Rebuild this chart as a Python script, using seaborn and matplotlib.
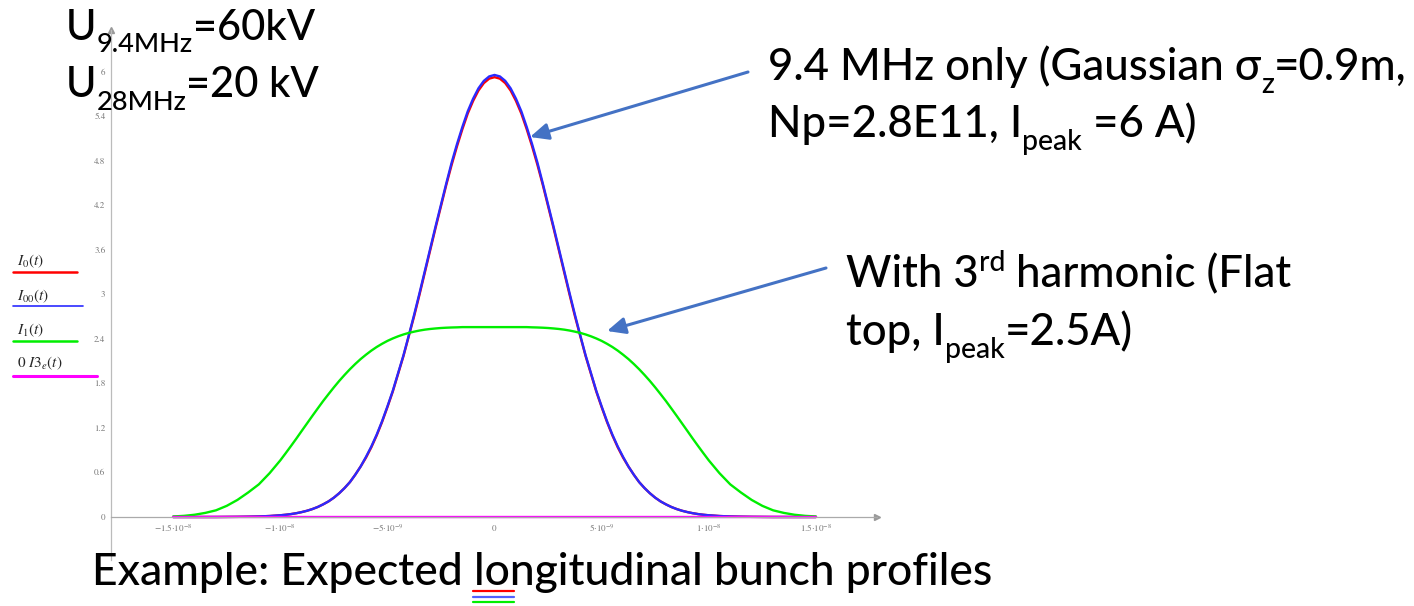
import numpy as np
import pandas as pd
import matplotlib
matplotlib.use("Agg")
import matplotlib.pyplot as plt
import seaborn as sns
from matplotlib.lines import Line2D

# time axis in ns (tick labels are written in seconds)
t_ns = [-15, -14.5, -14, -13.5, -13, -12.5, -12, -11.5, -11, -10.5,
        -10, -9.75, -9.5, -9.25, -9, -8.75, -8.5, -8.25, -8, -7.75,
        -7.5, -7.25, -7, -6.75, -6.5, -6.25, -6, -5.75, -5.5, -5.25,
        -5, -4.75, -4.5, -4.25, -4, -3.75, -3.5, -3.25, -3, -2.75,
        -2.5, -2.25, -2, -1.75, -1.5, -1.25, -1, -0.75, -0.5, -0.25,
        0,
        0.25, 0.5, 0.75, 1, 1.25, 1.5, 1.75, 2, 2.25, 2.5,
        2.75, 3, 3.25, 3.5, 3.75, 4, 4.25, 4.5, 4.75, 5,
        5.25, 5.5, 5.75, 6, 6.25, 6.5, 6.75, 7, 7.25, 7.5,
        7.75, 8, 8.25, 8.5, 8.75, 9, 9.25, 9.5, 9.75, 10,
        10.5, 11, 11.5, 12, 12.5, 13, 13.5, 14, 14.5, 15]

# I0(t): 9.4 MHz only, gaussian bunch
I0 = [0, 0, 0, 0, 0, 0.001, 0.002, 0.004, 0.007, 0.013,
      0.023, 0.030, 0.039, 0.051, 0.066, 0.084, 0.107, 0.135, 0.17, 0.21,
      0.26, 0.32, 0.39, 0.47, 0.57, 0.68, 0.80, 0.94, 1.10, 1.28,
      1.48, 1.69, 1.93, 2.17, 2.44, 2.71, 3.00, 3.30, 3.60, 3.90,
      4.19, 4.48, 4.75, 5.00, 5.23, 5.44, 5.61, 5.75, 5.85, 5.91,
      5.93,
      5.91, 5.85, 5.75, 5.61, 5.44, 5.23, 5.00, 4.75, 4.48, 4.19,
      3.90, 3.60, 3.30, 3.00, 2.71, 2.44, 2.17, 1.93, 1.69, 1.48,
      1.28, 1.10, 0.94, 0.80, 0.68, 0.57, 0.47, 0.39, 0.32, 0.26,
      0.21, 0.17, 0.135, 0.107, 0.084, 0.066, 0.051, 0.039, 0.030, 0.023,
      0.013, 0.007, 0.004, 0.002, 0.001, 0, 0, 0, 0, 0]

# I00(t): nearly on top of I0
I00 = [0, 0, 0, 0, 0, 0.001, 0.002, 0.004, 0.007, 0.013,
       0.023, 0.030, 0.039, 0.051, 0.066, 0.084, 0.107, 0.135, 0.17, 0.21,
       0.26, 0.32, 0.39, 0.47, 0.57, 0.68, 0.81, 0.95, 1.11, 1.29,
       1.49, 1.70, 1.94, 2.18, 2.45, 2.73, 3.02, 3.32, 3.62, 3.92,
       4.21, 4.50, 4.78, 5.03, 5.26, 5.47, 5.64, 5.78, 5.88, 5.94,
       5.96,
       5.94, 5.88, 5.78, 5.64, 5.47, 5.26, 5.03, 4.78, 4.50, 4.21,
       3.92, 3.62, 3.32, 3.02, 2.73, 2.45, 2.18, 1.94, 1.70, 1.49,
       1.29, 1.11, 0.95, 0.81, 0.68, 0.57, 0.47, 0.39, 0.32, 0.26,
       0.21, 0.17, 0.135, 0.107, 0.084, 0.066, 0.051, 0.039, 0.030, 0.023,
       0.013, 0.007, 0.004, 0.002, 0.001, 0, 0, 0, 0, 0]

# I1(t): with 3rd harmonic, flat top
I1 = [0.007, 0.015, 0.03, 0.055, 0.09, 0.15, 0.23, 0.33, 0.44, 0.59,
      0.763, 0.859, 0.957, 1.057, 1.160, 1.262, 1.364, 1.464, 1.563, 1.656,
      1.747, 1.834, 1.915, 1.992, 2.063, 2.129, 2.188, 2.243, 2.292, 2.335,
      2.374, 2.407, 2.436, 2.461, 2.482, 2.499, 2.514, 2.526, 2.535, 2.542,
      2.548, 2.552, 2.555, 2.557, 2.56, 2.56, 2.56, 2.56, 2.56, 2.56,
      2.56,
      2.56, 2.56, 2.56, 2.56, 2.56, 2.56, 2.557, 2.555, 2.552, 2.548,
      2.542, 2.535, 2.526, 2.514, 2.499, 2.482, 2.461, 2.436, 2.407, 2.374,
      2.335, 2.292, 2.243, 2.188, 2.129, 2.063, 1.992, 1.915, 1.834, 1.747,
      1.656, 1.563, 1.464, 1.364, 1.262, 1.160, 1.057, 0.957, 0.859, 0.763,
      0.59, 0.44, 0.33, 0.23, 0.15, 0.09, 0.055, 0.03, 0.015, 0.007]

# 0*I3e(t)
I3e = [0] * len(t_ns)

series_names = ["I0", "I00", "I1", "I3e"]
series_colors = ["#ff0000", "#2a2aff", "#00ee00", "#ff00ff"]

x_ticks = [-15, -10, -5, 0, 5, 10, 15]
x_ticklabels = [r"$-1.5{\cdot}10^{-8}$", r"$-1{\cdot}10^{-8}$", r"$-5{\cdot}10^{-9}$", r"$0$",
                r"$5{\cdot}10^{-9}$", r"$1{\cdot}10^{-8}$", r"$1.5{\cdot}10^{-8}$"]
y_ticks = [0, 0.6, 1.2, 1.8, 2.4, 3, 3.6, 4.2, 4.8, 5.4, 6]
y_ticklabels = ["0", "0.6", "1.2", "1.8", "2.4", "3", "3.6", "4.2", "4.8", "5.4", "6"]

df = pd.DataFrame({
    "t": t_ns * 4,
    "I": I0 + I00 + I1 + I3e,
    "curve": sum([[n] * len(t_ns) for n in series_names], []),
})

sns.set_style("white")
plt.rcParams["mathtext.fontset"] = "stix"
FONT = ["Lato", "DejaVu Sans"]

W, H = 1414, 606
fig = plt.figure(figsize=(W / 100, H / 100), dpi=100)
# axes box in image pixels: y axis at x=111, x arrow at 877, top 30, bottom 560
ax = fig.add_axes([111 / W, (H - 560) / H, (877 - 111) / W, (560 - 30) / H])

sns.lineplot(data=df, x="t", y="I", hue="curve", hue_order=series_names,
             palette=series_colors, legend=False, linewidth=1.7, ax=ax, sort=False)
for ln in ax.get_lines():
    ln.set_solid_joinstyle("round")
    ln.set_solid_capstyle("round")

ax.set_xlim(-17.9, 17.85)
ax.set_ylim(-0.58, 6.566)
ax.set_xlabel("")
ax.set_ylabel("")
ax.set_facecolor("white")

for s in ["top", "right"]:
    ax.spines[s].set_visible(False)
ax.spines["bottom"].set_position(("data", 0))
ax.spines["bottom"].set_color("#aaaaaa")
ax.spines["left"].set_color("#bbbbbb")
ax.spines["bottom"].set_linewidth(0.9)
ax.spines["left"].set_linewidth(0.9)
ax.plot([1], [0], ">", color="#999999", ms=5, transform=ax.get_yaxis_transform(), clip_on=False)
ax.plot([0], [1], "^", color="#999999", ms=5, transform=ax.transAxes, clip_on=False)

ax.set_xticks(x_ticks)
ax.set_xticklabels(x_ticklabels)
ax.set_yticks(y_ticks)
ax.set_yticklabels(y_ticklabels)
ax.tick_params(axis="both", direction="inout", length=4, width=0.6, color="#aaaaaa",
               labelsize=6.5, labelcolor="#777777", pad=2)
for lab in ax.get_yticklabels():
    lab.set_family("STIXGeneral")

# legend drawn by hand at the left edge
leg_text = [r"$I_0(t)$", r"$I_{00}(t)$", r"$I_1(t)$", r"$0\ I3_e(t)$"]
leg_text_y = [261, 296, 330, 363]
leg_line_y = [272, 306, 341, 376]
leg_line_x1 = [77, 83, 77, 97]
leg_lw = [1.8, 1.2, 1.8, 2.2]
for txt, ty, ly, x1, c, lw in zip(leg_text, leg_text_y, leg_line_y, leg_line_x1, series_colors, leg_lw):
    fig.text(17 / W, (H - ty) / H, txt, fontsize=11, va="center", ha="left")
    fig.add_artist(Line2D([13 / W, x1 / W], [(H - ly) / H] * 2, color=c, lw=lw))

# the three little coloured strokes under "lon"
for yy, c in zip([591, 597, 602], ["#ff0000", "#5060ff", "#00ee00"]):
    fig.add_artist(Line2D([473 / W, 514 / W], [(H - yy) / H] * 2, color=c, lw=1.6))

r = fig.canvas.get_renderer()


def rich(x, y, parts, size=30):
    # x, y: left and baseline in image pixels
    px = size * 100 / 72
    for s, kind in parts:
        fs = size if kind == "" else size * 0.65
        dy = {"": 0, "sub": -0.3, "sup": 0.36}[kind] * px
        t = fig.text(x / W, (H - y + dy) / H, s, fontsize=fs, family=FONT, weight="medium",
                     va="baseline", ha="left", color="black")
        x += t.get_window_extent(renderer=r).width


rich(66, 40, [("U", ""), ("9.4MHz", "sub"), ("=60kV", "")], 30)
rich(66, 97, [("U", ""), ("28MHz", "sub"), ("=20 kV", "")], 30)
rich(768, 80, [("9.4 MHz only (Gaussian σ", ""), ("z", "sub"), ("=0.9m,", "")], 31.5)
rich(768, 137, [("Np=2.8E11, I", ""), ("peak", "sub"), (" =6 A)", "")], 31.5)
rich(846, 287, [("With 3", ""), ("rd", "sup"), (" harmonic (Flat", "")], 31.5)
rich(846, 345, [("top, I", ""), ("peak", "sub"), ("=2.5A)", "")], 31.5)
rich(92, 585, [("Example: Expected longitudinal bunch profiles", "")], 32)

arrow_kw = dict(arrowstyle="-|>,head_length=1.1,head_width=0.5", color="#4472c4", lw=2.2,
                shrinkA=0, shrinkB=0)
for (x0, y0), (x1, y1) in [((748, 72), (530, 137)), ((826, 268), (607, 331))]:
    ax.annotate("", xy=(x1, H - y1), xycoords="figure pixels",
                xytext=(x0, H - y0), textcoords="figure pixels",
                arrowprops=arrow_kw, annotation_clip=False)

fig.savefig("out.png", dpi=100, facecolor="white")
